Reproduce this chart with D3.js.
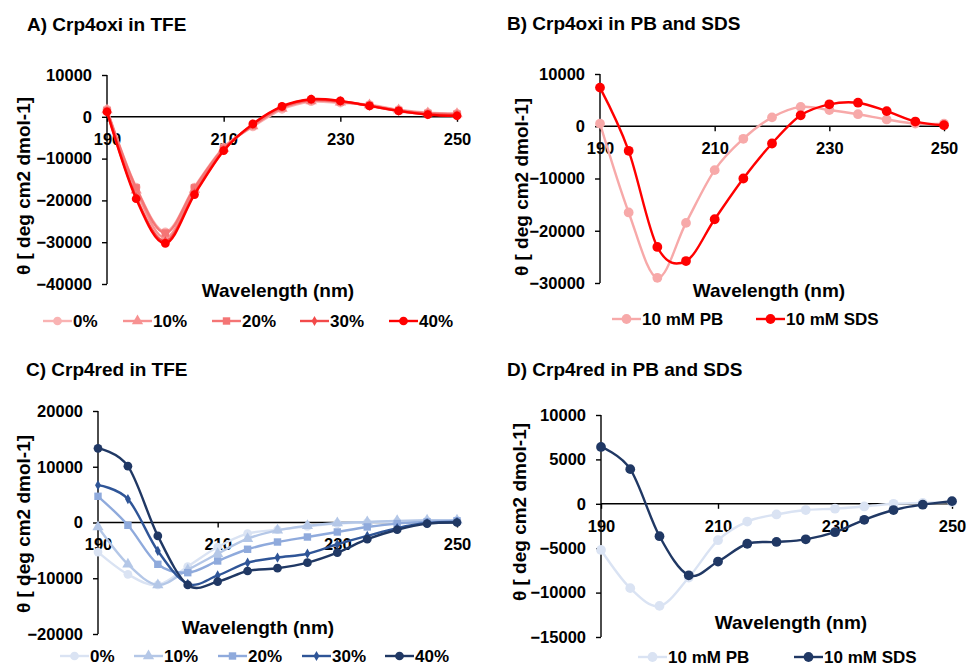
<!DOCTYPE html>
<html>
<head>
<meta charset="utf-8">
<script src="https://cdn.jsdelivr.net/npm/d3@7"></script>
<style>
  body { margin: 0; background: #fff; }
  text { font-family: "Liberation Sans", Arial, sans-serif; font-weight: bold; fill: #000; }
</style>
</head>
<body>
<div id="chart"></div>
<script>
// wavelengths (nm)
const wavelength = [190, 195, 200, 205, 210, 215, 220, 225, 230, 235, 240, 245, 250]
const xTicks = [190, 210, 230, 250]

// A) Crp4oxi in TFE
const oxiTfeLabels = ["0%", "10%", "20%", "30%", "40%"]
const oxiTfe0 = [1800, -16800, -27500, -16800, -7300, -2400, 1800, 3600, 3300, 2900, 1700, 1000, 800]
const oxiTfe10 = [1600, -17600, -29000, -17400, -7600, -2200, 2000, 3800, 3500, 2800, 1600, 900, 700]
const oxiTfe20 = [1500, -17000, -27800, -17000, -7500, -2100, 2200, 3900, 3600, 2700, 1500, 800, 600]
const oxiTfe30 = [1300, -19200, -29800, -18300, -8000, -1800, 2400, 4100, 3700, 2600, 1400, 600, 400]
const oxiTfe40 = [1200, -19600, -30300, -18600, -8100, -1700, 2500, 4200, 3800, 2600, 1400, 500, 250]
const oxiTfeTicks = [10000, 0, -10000, -20000, -30000, -40000]

// B) Crp4oxi in PB and SDS
const oxiBufLabels = ["10 mM PB", "10 mM SDS"]
const oxiPB = [500, -16500, -29000, -18500, -8400, -2400, 1700, 3700, 3100, 2300, 1300, 500, 500]
const oxiSDS = [7400, -4700, -23100, -25800, -17800, -10000, -3300, 2100, 4200, 4500, 2900, 900, 200]
const oxiBufTicks = [10000, 0, -10000, -20000, -30000]

// C) Crp4red in TFE
const redTfeLabels = ["0%", "10%", "20%", "30%", "40%"]
const redTfe0 = [-5300, -9300, -11200, -7900, -4400, -2000, -1300, -700, -200, 0, 100, 300, 400]
const redTfe10 = [-800, -7500, -11200, -8500, -5600, -2900, -1400, -600, -100, 100, 300, 400, 400]
const redTfe20 = [4700, -500, -7500, -9000, -6900, -4800, -3500, -2600, -1700, -800, -200, 100, 300]
const redTfe30 = [6700, 4200, -5100, -11000, -9500, -7200, -6300, -5600, -3900, -2400, -1000, -100, 100]
const redTfe40 = [13300, 10100, -2400, -11200, -10600, -8700, -8200, -7200, -5400, -3000, -1300, -200, 0]
const redTfeTicks = [20000, 10000, 0, -10000, -20000]

// D) Crp4red in PB and SDS
const redBufLabels = ["10 mM PB", "10 mM SDS"]
const redPB = [-5200, -9500, -11500, -8300, -4100, -2000, -1200, -700, -550, -300, 0, 100, 200]
const redSDS = [6400, 3900, -3650, -8050, -6500, -4500, -4300, -4000, -3200, -1800, -700, -100, 300]
const redBufTicks = [10000, 5000, 0, -5000, -10000, -15000]

const redShades = ["#f9b3b3", "#f79292", "#f47575", "#f24a4a", "#ff0000"]
const blueShades = ["#dae3f3", "#b4c7e7", "#8faadc", "#2f5597", "#203864"]
const symbols5 = [d3.symbolCircle, d3.symbolTriangle, d3.symbolSquare, d3.symbolDiamond, d3.symbolCircle]
const sizes5 = [60, 55, 55, 30, 60]

const width = 968, height = 668
const svg = d3.select("#chart").append("svg")
  .attr("width", width).attr("height", height)

const panels = [
  { title: "A) Crp4oxi in TFE", tx: 27, ty: 31, xr: [107, 457], yd: [-40000, 10000], yr: [284, 75],
    ticks: oxiTfeTicks, ylx: 30, yly: 186, xtx: 278, xty: 297, legY: 321,
    series: [oxiTfe0, oxiTfe10, oxiTfe20, oxiTfe30, oxiTfe40], labels: oxiTfeLabels,
    colors: redShades, symbols: symbols5, sizes: sizes5, legX: [43, 123, 212, 300, 389] },
  { title: "B) Crp4oxi in PB and SDS", tx: 507, ty: 30, xr: [600, 944], yd: [-30000, 10000], yr: [283, 74],
    ticks: oxiBufTicks, ylx: 528, yly: 187, xtx: 769, xty: 297, legY: 319,
    series: [oxiPB, oxiSDS], labels: oxiBufLabels,
    colors: ["#f7a9a9", "#ff0000"], symbols: [d3.symbolCircle, d3.symbolCircle], sizes: [75, 75], legX: [612, 756] },
  { title: "C) Crp4red in TFE", tx: 26, ty: 376, xr: [98, 457], yd: [-20000, 20000], yr: [634, 411],
    ticks: redTfeTicks, ylx: 30, yly: 524, xtx: 258, xty: 634, legY: 656,
    series: [redTfe0, redTfe10, redTfe20, redTfe30, redTfe40], labels: redTfeLabels,
    colors: blueShades, symbols: symbols5, sizes: sizes5, legX: [60, 134, 218, 302, 385] },
  { title: "D) Crp4red in PB and SDS", tx: 507, ty: 376, xr: [601, 952], yd: [-15000, 10000], yr: [637, 415],
    ticks: redBufTicks, ylx: 526, yly: 512, xtx: 791, xty: 629, legY: 657,
    series: [redPB, redSDS], labels: redBufLabels,
    colors: ["#dae3f3", "#203864"], symbols: [d3.symbolCircle, d3.symbolCircle], sizes: [75, 75], legX: [638, 794] }
]

panels.forEach(drawPanel)

function drawPanel(p) {
  let g = svg.append("g")
  let x = d3.scaleLinear().domain([190, 250]).range(p.xr)
  let y = d3.scaleLinear().domain(p.yd).range(p.yr)

  g.append("text").attr("x", p.tx).attr("y", p.ty)
    .style("font-size", "19px").text(p.title)

  // y axis
  let yAxis = d3.axisLeft(y).tickValues(p.ticks).tickSize(5).tickPadding(10).tickFormat(d3.format("d"))
  let ya = g.append("g").attr("transform", "translate(" + x(190) + ",0)").call(yAxis)
  ya.select(".domain").attr("stroke", "#000").attr("stroke-width", 1.4).attr("d", "M0," + y(p.yd[1]) + "V" + y(p.yd[0]))
  ya.selectAll(".tick line").attr("stroke-width", 1.4)
  ya.selectAll(".tick text").style("font-size", "16.5px").attr("font-family", null)

  // x axis at zero
  let xAxis = d3.axisBottom(x).tickValues(xTicks).tickSize(5).tickPadding(11).tickFormat(d3.format("d"))
  let xa = g.append("g").attr("transform", "translate(0," + y(0) + ")").call(xAxis)
  xa.select(".domain").attr("stroke", "#000").attr("stroke-width", 1.4).attr("d", "M" + x(190) + ",0H" + x(250))
  xa.selectAll(".tick line").attr("stroke-width", 1.4)
  xa.selectAll(".tick text").style("font-size", "16.5px").attr("font-family", null)

  g.append("text")
    .attr("transform", "translate(" + p.ylx + "," + p.yly + ") rotate(-90)")
    .attr("text-anchor", "middle").style("font-size", "19px")
    .text("θ [ deg cm2 dmol-1]")

  g.append("text").attr("x", p.xtx).attr("y", p.xty)
    .attr("text-anchor", "middle").style("font-size", "19px")
    .text("Wavelength (nm)")

  let line = d3.line()
    .x(function (d, i) { return x(wavelength[i]) })
    .y(function (d) { return y(d) })
    .curve(d3.curveCardinal.tension(0))

  p.series.forEach(function (s, k) {
    g.append("path").datum(s)
      .attr("fill", "none").attr("stroke", p.colors[k]).attr("stroke-width", 2.4)
      .attr("d", line)
    g.selectAll(".m" + k).data(s).enter().append("path")
      .attr("class", "m" + k)
      .attr("transform", function (d, i) { return "translate(" + x(wavelength[i]) + "," + y(d) + ")" })
      .attr("d", d3.symbol().type(p.symbols[k]).size(p.sizes[k]))
      .attr("fill", p.colors[k])

    // legend entry
    let lx = p.legX[k]
    g.append("line").attr("x1", lx).attr("x2", lx + 29).attr("y1", p.legY).attr("y2", p.legY)
      .attr("stroke", p.colors[k]).attr("stroke-width", 2.4)
    g.append("path").attr("transform", "translate(" + (lx + 14.5) + "," + p.legY + ")")
      .attr("d", d3.symbol().type(p.symbols[k]).size(p.sizes[k]))
      .attr("fill", p.colors[k])
    g.append("text").attr("x", lx + 30).attr("y", p.legY + 6)
      .style("font-size", "17px").text(p.labels[k])
  })
}
</script>
</body>
</html>
